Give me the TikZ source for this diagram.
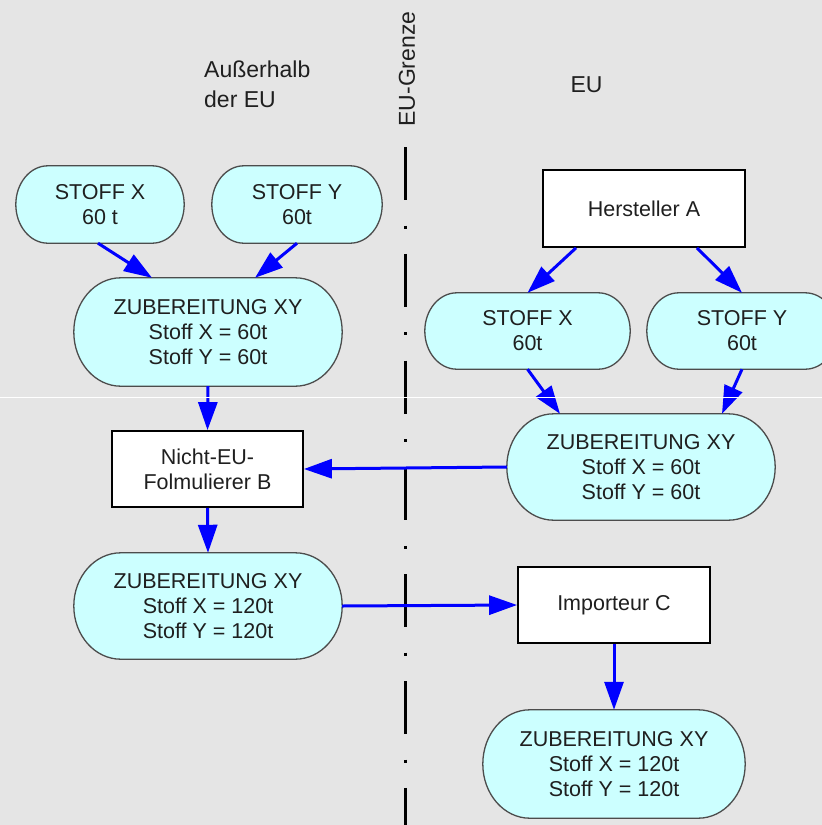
\documentclass[tikz,border=0pt]{standalone}
\usepackage{fontspec}
\setmainfont{Liberation Sans}
\usetikzlibrary{arrows.meta,calc}
\pgfdeclarelayer{backdrop}
\pgfdeclarelayer{background}
\pgfsetlayers{backdrop,background,main}
\definecolor{paper}{RGB}{229,229,229}
\definecolor{prep}{RGB}{204,255,255}
\definecolor{flow}{RGB}{0,0,255}
\tikzset{
  boxtext/.style={inner sep=0pt, align=center, text=black!88,
    font=\fontsize{21.5}{25}\selectfont},
  terminal/.style={boxtext},
  actor/.style={boxtext, draw=black, line width=1.8pt, fill=white},
  flowarrow/.style={draw=flow, line width=3pt, -{Triangle[length=28pt,width=19pt]}},
  termframe/.style={draw=black!70, line width=1.3pt, fill=prep},
  header/.style={inner sep=0pt, text=black!88, font=\fontsize{23}{30}\selectfont},
  border/.style={line width=3pt, black,
    dash pattern=on 53pt off 25.5pt on 3pt off 25.3pt},
}
% terminator outline with elliptical ends around a named node
% #1: horizontal radius of the ends, #2: node name
\newcommand\termframe[2][32]{%
  \begin{pgfonlayer}{background}
    \path[termframe] let \p1=(#2.north west), \p2=(#2.south east),
      \n1={(\y1-\y2)/2} in
      (\x1+#1pt,\y1) -- (\x2-#1pt,\y1)
      arc[start angle=90, end angle=-90, x radius=#1pt, y radius=\n1]
      -- (\x1+#1pt,\y2)
      arc[start angle=270, end angle=90, x radius=#1pt, y radius=\n1]
      -- cycle;
  \end{pgfonlayer}}

\begin{document}
\begin{tikzpicture}[x=1pt, y=-1pt]
  \begin{pgfonlayer}{backdrop}
    \fill[paper] (0,0) rectangle (822,825);
  \end{pgfonlayer}
  \useasboundingbox (0,0) rectangle (822,825);

  % headings
  \node[header, anchor=north west, align=left] (outside) at (204,61) {Außerhalb\\der EU};
  \node[header] (inside) at (586.5,85) {EU};
  \node[header, rotate=90] (limit) at (407,69) {EU-Grenze};

  % EU border
  \draw[border] (405,147) -- (405,830);

  % outside the EU
  \node[terminal, minimum width=168pt, minimum height=77pt] (sxl) at (100,204.5) {STOFF X\\60 t};
  \node[terminal, minimum width=170pt, minimum height=77pt] (syl) at (297,204.5) {STOFF Y\\60t};
  \node[terminal, minimum width=268pt, minimum height=108pt] (zl) at (208,332)
    {ZUBEREITUNG XY\\Stoff X = 60t\\Stoff Y = 60t};
  \node[actor, minimum width=191pt, minimum height=76pt] (nb) at (207.5,469)
    {Nicht-EU-\\Folmulierer B};
  \node[terminal, minimum width=268pt, minimum height=106pt] (z2) at (208,606)
    {ZUBEREITUNG XY\\Stoff X = 120t\\Stoff Y = 120t};

  % inside the EU
  \node[actor, minimum width=202pt, minimum height=77pt] (ha) at (644,208.5) {Hersteller A};
  \node[terminal, minimum width=205pt, minimum height=76pt] (sxr) at (527.5,331) {STOFF X\\60t};
  \node[terminal, minimum width=190pt, minimum height=76pt] (syr) at (742,331) {STOFF Y\\60t};
  \node[terminal, minimum width=268pt, minimum height=106pt] (zm) at (641,467)
    {ZUBEREITUNG XY\\Stoff X = 60t\\Stoff Y = 60t};
  \node[actor, minimum width=192pt, minimum height=76pt] (ic) at (614,605) {Importeur C};
  \node[terminal, minimum width=262pt, minimum height=108pt] (zb) at (614,764)
    {ZUBEREITUNG XY\\Stoff X = 120t\\Stoff Y = 120t};

  \termframe{sxl}
  \termframe{syl}
  \termframe[47]{zl}
  \termframe[47]{z2}
  \termframe{sxr}
  \termframe{syr}
  \termframe[47]{zm}
  \termframe[47]{zb}

  % flows
  \draw[flowarrow] ([xshift=-2pt]sxl.south) -- ([xshift=-56pt]zl.north);
  \draw[flowarrow] (syl.south) -- ([xshift=47pt]zl.north);
  \draw[flowarrow] (zl.south) -- (nb.north);
  \draw[flowarrow] (nb.south) -- (z2.north);
  \draw[flowarrow] ([xshift=-68pt]ha.south) -- (sxr.north);
  \draw[flowarrow] ([xshift=53pt]ha.south) -- (syr.north);
  \draw[flowarrow] (sxr.south) -- ([xshift=-81pt]zm.north);
  \draw[flowarrow] (syr.south) -- ([xshift=81pt]zm.north);
  \draw[flowarrow] (zm.west) -- (nb.east);
  \draw[flowarrow] (z2.east) -- (ic.west);
  \draw[flowarrow] (ic.south) -- (zb.north);

  % thin light seam across the sheet
  \draw[white, line width=1pt] (0,397) -- (822,397);
\end{tikzpicture}
\end{document}
